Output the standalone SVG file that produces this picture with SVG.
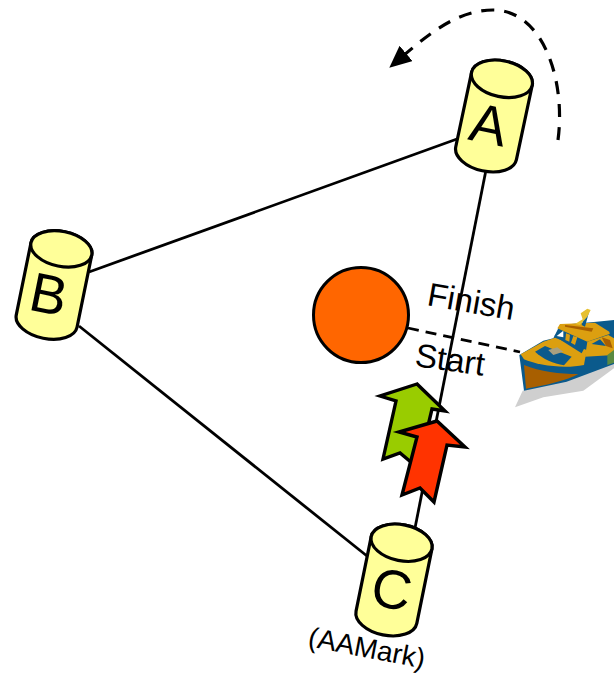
<svg xmlns="http://www.w3.org/2000/svg" width="614" height="677" viewBox="0 0 614 677">
<style>
text{font-family:"Liberation Sans",Arial,sans-serif;fill:#000}
.cyl{fill:#ffff99;stroke:#000;stroke-width:3.2;stroke-linejoin:round}
.lbl{font-size:55px;text-anchor:middle}
.t{font-size:33px}
.line{fill:none;stroke:#000;stroke-width:2.8}
.dash{fill:none;stroke:#000;stroke-width:3.2}
.arr{stroke:#000;stroke-width:3.4;stroke-linejoin:miter}
.navy{fill:#0b5a8c}.gold{fill:#dc9f10}.brown{fill:#a85f00}
</style>
<defs>
<g id="cyl">
<path class="cyl" d="M-31-38V38A31 18 0 0 0 31 38V-38A31 18 0 0 0-31-38Z"/>
<ellipse class="cyl" cx="0" cy="-38" rx="31" ry="18"/>
</g>
<marker id="head" markerUnits="userSpaceOnUse" markerWidth="24" markerHeight="22" refX="4" refY="10" orient="auto">
<path d="M0 0L22 10L0 20Z" fill="#000"/>
</marker>
</defs>
<g id="connectors">
<path class="line" d="M457 139L89 272"/>
<path class="line" d="M79 326L367 556"/>
<path class="line" d="M486 170L415 528"/>
<path class="line" d="M408 328L520 352" stroke-dasharray="11 7"/>
<path class="dash" d="M558 140C566 80 543 10 493 10C458 10 430 33 403 56" stroke-dasharray="13 10" marker-end="url(#head)"/>
</g>
<g id="mark"><circle cx="361" cy="315" r="47.5" fill="#ff6600" stroke="#000" stroke-width="3"/></g>
<g id="arrow-green"><path class="arr" fill="#99cc00" d="M417 384L380 396L396 401L383 459L400 453L418 468L432 409L445 411Z"/></g>
<g id="arrow-red"><path class="arr" fill="#ff3300" d="M437 421L399 432L417 437L402 495L420 488L434 502L447 445L465 447Z"/></g>
<g id="node-a"><use href="#cyl" transform="translate(494 116) rotate(12)"/><text class="lbl" transform="translate(485 143) rotate(12)">A</text></g>
<g id="node-b"><use href="#cyl" transform="translate(54 285) rotate(11.5) scale(1 .97)"/><text class="lbl" transform="translate(45 313) rotate(11.5)">B</text></g>
<g id="node-c"><use href="#cyl" transform="translate(394 580) rotate(11.5)"/><text class="lbl" transform="translate(388 608) rotate(11.5)">C</text></g>
<g id="labels">
<text class="t" transform="translate(426 305) rotate(10)">Finish</text>
<text class="t" transform="translate(414 366) rotate(8)">Start</text>
<text font-size="28" transform="translate(307 646) rotate(11)">(AAMark)</text>
</g>
<g id="boat" transform="translate(500 300) scale(.3333)">
<path d="M68 272L45 322L130 292L250 272L342 205V188Z" fill="#cfcfcf"/>
<path class="navy" d="M58 165L72 272L200 245L342 192V60L290 65L180 75L160 115L130 122Z"/>
<path class="brown" d="M72 195C120 215 180 222 235 222C205 240 130 258 78 266Z"/>
<path class="gold" d="M62 163L130 125L165 113L260 150L252 195C190 208 110 195 72 178Z"/>
<path class="navy" d="M105 155L135 138L215 170L192 196C160 190 130 178 105 155Z"/>
<path d="M145 150L172 142L190 155L160 165Z" fill="#a8a080"/>
<path class="navy" d="M163 108L188 85L265 122L245 160Z"/>
<path d="M170 108L190 92L190 112Z" fill="#fff"/>
<path class="gold" d="M198 100L210 104L208 125L196 120ZM220 108L232 112L225 135L213 128Z"/>
<path class="gold" d="M172 85L180 72L285 68L335 100L262 125Z"/>
<path class="brown" d="M195 75L280 85L275 95L195 80Z"/>
<path class="gold" d="M262 125L325 105L342 115V165L255 170Z"/>
<path class="navy" d="M275 132L300 118L318 138Z"/>
<path class="brown" d="M305 112L330 120L338 145L318 138Z"/>
<path class="navy" d="M245 75L258 30L268 32L255 80Z"/>
<path d="M242 40L262 26L272 30L262 50L240 75L225 72L248 58Z" fill="#e6c030"/>
<path class="navy" d="M328 100L335 65L342 62V112Z"/>
<path d="M322 165L342 150V188L322 195Z" fill="#5a8a40"/>
</g>
</svg>
